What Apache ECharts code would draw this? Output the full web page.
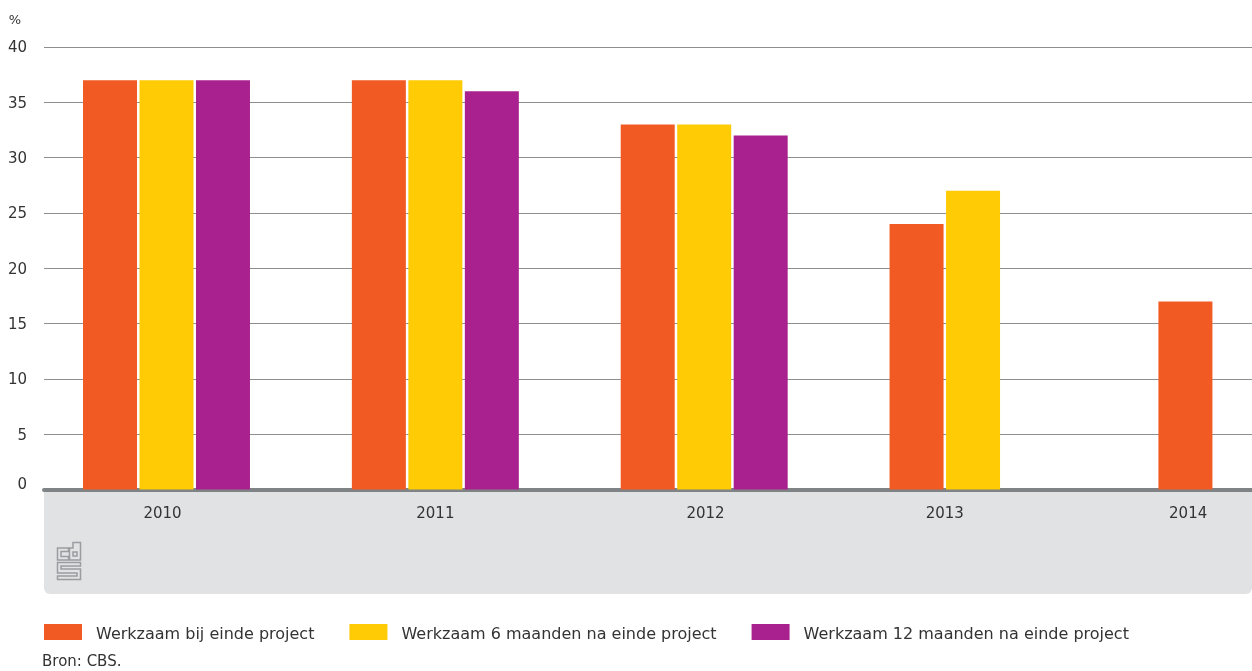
<!DOCTYPE html>
<html><head><meta charset="utf-8">
<style>html,body{margin:0;padding:0;background:#fff}#c{width:1252px;height:671px}</style>
<script src="https://cdn.jsdelivr.net/npm/echarts@6/dist/echarts.min.js"></script>
</head><body><div id="c"></div>
<script>
const years = [2010, 2011, 2012, 2013, 2014];
const yearLabelPositions = [2009.985, 2011, 2012.005, 2012.895, 2013.8];
const bijEinde = [37, 37, 33, 24, 17];
const na6 = [37, 37, 33, 27, null];
const na12 = [37, 36, 32, null, null];
const seriesNames = ['Werkzaam bij einde project', 'Werkzaam 6 maanden na einde project', 'Werkzaam 12 maanden na einde project'];
const seriesColors = ['#f15a22', '#ffcb05', '#a9218e'];
const FONT = '"DejaVu Sans"';
const TEXT = '#333333';
const chart = echarts.init(document.getElementById('c'), null, {renderer: 'canvas'});
const logoShapes = [
  [[68.5,548],[57.5,548],[57.5,560],[68.5,560],[68.5,556.5],[61,556.5],[61,551.5],[68.5,551.5]],
  [[73,542.5],[80.5,542.5],[80.5,560],[69.5,560],[69.5,548],[73,548]],
  [[73,552],[77,552],[77,556],[73,556]],
  [[57.5,562.5],[80.5,562.5],[80.5,566],[61,566],[61,569],[80.5,569],[80.5,579.5],[57.5,579.5],[57.5,576],[77,576],[77,573],[57.5,573]]
];
chart.setOption({
  animation: false,
  backgroundColor: '#fff',
  textStyle: {fontFamily: FONT, color: TEXT},
  grid: {left: 44, right: 0, top: 47, height: 442.5},
  title: {text: 'Bron: CBS.', left: 42, top: 655, padding: 0, textStyle: {fontFamily: FONT, fontSize: 15, fontWeight: 'normal', color: TEXT}},
  legend: {
    left: 44, top: 624, padding: 0, itemWidth: 38, itemHeight: 16, itemGap: 35, icon: 'rect',
    formatter: (n) => '{t|' + n + '}',
    textStyle: {
      fontFamily: FONT, fontSize: 16, color: TEXT, padding: [0, 0, 0, 9],
      rich: {t: {fontFamily: FONT, fontSize: 16, color: TEXT, padding: [5, 0, 0, 0]}}
    },
    data: seriesNames
  },
  xAxis: {
    type: 'value',
    min: 2010 - 122.5 / 268.85,
    max: 2010 + 1085.5 / 268.85,
    splitLine: {show: false},
    axisTick: {show: false},
    axisLine: {show: true, onZero: true, lineStyle: {color: '#808385', width: 4}},
    axisLabel: {
      customValues: yearLabelPositions,
      formatter: (v) => String(years[yearLabelPositions.indexOf(v)]),
      margin: 17, fontFamily: FONT, fontSize: 15, color: TEXT
    }
  },
  yAxis: {
    type: 'value', min: 0, max: 40, interval: 5,
    name: '%', nameLocation: 'end', nameGap: 20,
    nameTextStyle: {fontFamily: FONT, fontSize: 13, color: TEXT, align: 'right', padding: [0, 23, 0, 0]},
    axisLine: {show: false}, axisTick: {show: false},
    splitLine: {lineStyle: {color: '#8e8e8e', width: 1}},
    axisLabel: {
      margin: 17, fontFamily: FONT, fontSize: 15, color: TEXT, padding: [3, 0, 0, 0],
      formatter: (v) => v === 0 ? '{zero|0}' : String(v),
      rich: {zero: {fontFamily: FONT, fontSize: 15, color: TEXT, padding: [0, 0, 12, 0]}}
    }
  },
  series: [bijEinde, na6, na12].map((vals, i) => ({
    name: seriesNames[i], type: 'bar', barWidth: 54, barGap: '4.6%',
    itemStyle: {color: seriesColors[i]},
    data: years.map((y, k) => [y, vals[k]])
  })),
  graphic: [
    {type: 'rect', z: -10, shape: {x: 44, y: 490, width: 1208, height: 104, r: [0, 0, 6, 6]}, style: {fill: '#e1e2e4'}}
  ].concat(logoShapes.map((points) => ({
    type: 'polygon', z: -5, shape: {points}, style: {fill: 'none', stroke: '#9a9c9f', lineWidth: 1.5}
  })))
});
</script></body></html>
